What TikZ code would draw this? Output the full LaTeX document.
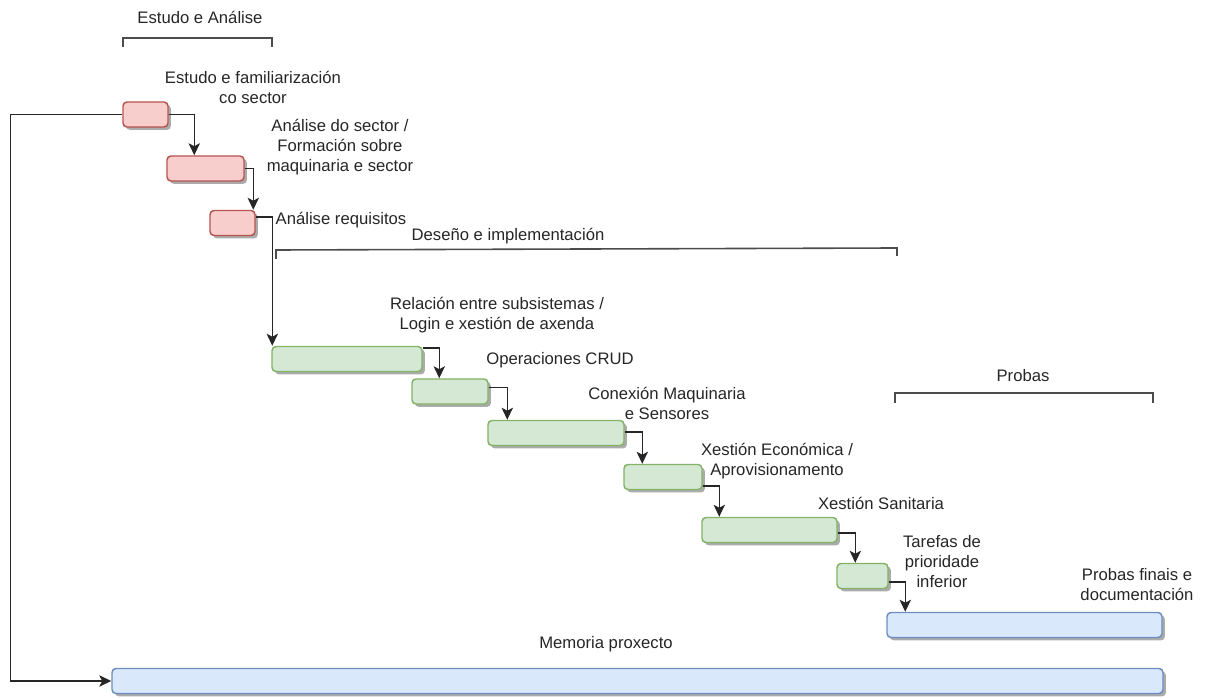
\documentclass[tikz,border=0pt]{standalone}
\usepackage{fontspec}
\setmainfont{Liberation Sans}
\usetikzlibrary{arrows.meta, calc, shadows}

\definecolor{redfill}{HTML}{F8CECC}
\definecolor{redline}{HTML}{B85450}
\definecolor{greenfill}{HTML}{D5E8D4}
\definecolor{greenline}{HTML}{82B366}
\definecolor{bluefill}{HTML}{DAE8FC}
\definecolor{blueline}{HTML}{6C8EBF}

\tikzset{
  task/.style={draw, rounded corners=3pt, line width=1.1pt, minimum height=18.75pt, inner sep=0pt,
    drop shadow={shadow xshift=2.2pt, shadow yshift=-2.2pt, fill=black!55, opacity=0.6}},
  redtask/.style={task, fill=redfill, draw=redline},
  greentask/.style={task, fill=greenfill, draw=greenline},
  bluetask/.style={task, fill=bluefill, draw=blueline},
  lbl/.style={align=center, anchor=center, inner sep=0pt, text=black!85,
    font=\fontsize{12.5}{15}\selectfont},
  flow/.style={-{Stealth[length=9pt, width=8.5pt, inset=2.2pt]}, line width=1pt, black!85},
  phase/.style={line width=1.2pt, black!70},
}

\begin{document}
\begin{tikzpicture}[x=0.75pt, y=-0.75pt]
        \useasboundingbox (0,0) rectangle (1214,698);

        % phases
        \node[lbl] (estudo) at (200, 17) {Estudo e Análise};
        \draw[phase] (123, 47) -- (123, 38) -- (272, 38) -- (272, 47);

        \node[lbl] (deseno) at (508, 236) {Deseño e implementación};
        \draw[phase] (276, 259) -- (276, 250) -- (897, 248) -- (897, 256);

        \node[lbl] (probas) at (1023, 376) {Probas};
        \draw[phase] (895, 403) -- (895, 393) -- (1153, 393) -- (1153, 403);

        % tasks
        \node[redtask, minimum width=33.75pt] (r1) at (145.5, 114.5) {};
        \node[redtask, minimum width=57.75pt] (r2) at (205.5, 168.5) {};
        \node[redtask, minimum width=33.75pt] (r3) at (232.5, 223) {};

        \node[greentask, minimum width=112.5pt] (g1) at (347, 359) {};
        \node[greentask, minimum width=57pt] (g2) at (450, 391.5) {};
        \node[greentask, minimum width=102pt] (g3) at (556, 433) {};
        \node[greentask, minimum width=58.5pt] (g4) at (663, 477) {};
        \node[greentask, minimum width=101.25pt] (g5) at (769.5, 530) {};
        \node[greentask, minimum width=38.25pt] (g6) at (862.5, 576) {};

        \node[bluetask, minimum width=206.25pt] (b1) at (1024.5, 625) {};
        \node[bluetask, minimum width=788.25pt] (b2) at (637.5, 681) {};

        % task labels
        \node[lbl] (t1) at (253, 87) {Estudo e familiarización\\co sector};
        \node[lbl] (t2) at (340, 147) {Análise do sector /\\Formación sobre\\maquinaria e sector};
        \node[lbl] (t3) at (341, 220) {Análise requisitos};
        \node[lbl] (t4) at (497, 315) {Relación entre subsistemas /\\Login e xestión de axenda};
        \node[lbl] (t5) at (560, 360) {Operaciones CRUD};
        \node[lbl] (t6) at (667, 403) {Conexión Maquinaria\\e Sensores};
        \node[lbl] (t7) at (777, 461) {Xestión Económica /\\Aprovisionamento};
        \node[lbl] (t8) at (881, 503) {Xestión Sanitaria};
        \node[lbl] (t9) at (942, 562) {Tarefas de\\prioridade\\inferior};
        \node[lbl] (t10) at (1137, 585) {Probas finais e\\documentación};
        \node[lbl] (t11) at (606, 644) {Memoria proxecto};

        % dependencies
        \foreach \a/\b/\dy/\dx in {r1/r2/0/28, r2/r3/0/44, r3/g1/-6/1, g1/g2/-11/28, g2/g3/-4/20,
                                   g3/g4/-1/19, g4/g5/9/18, g5/g6/3/19, g6/b1/6/19}
            \draw[flow] ($(\a.east)+(0,\dy)$) -| ($(\b.north west)+(\dx,0)$);

        \draw[flow] (r1.west) -- ++(-112, 0) |- (b2.west);
    \end{tikzpicture}
\end{document}
